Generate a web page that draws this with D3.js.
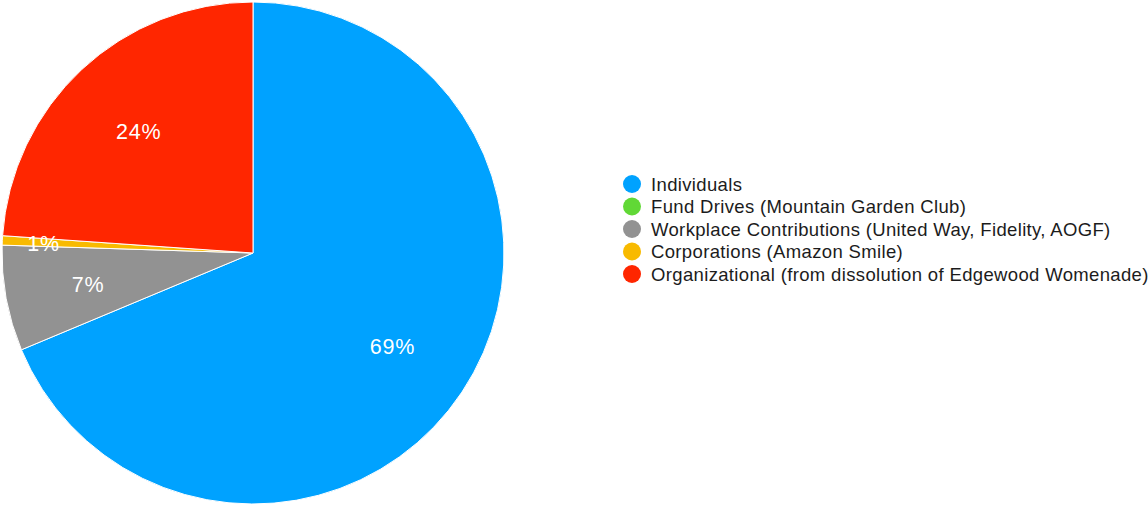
<!DOCTYPE html>
<html>
<head>
<meta charset="utf-8">
<script src="https://cdn.jsdelivr.net/npm/d3@7"></script>
<style>
	body { margin: 0; background: #fff; }
	text { font-family: "Liberation Sans", Arial, sans-serif; }
</style>
</head>
<body>
<svg id="chart" width="1148" height="506"></svg>
<script>

// DATA ========================================================================= //

var categories = [
	"Individuals",
	"Fund Drives (Mountain Garden Club)",
	"Workplace Contributions (United Way, Fidelity, AOGF)",
	"Corporations (Amazon Smile)",
	"Organizational (from dissolution of Edgewood Womenade)"
];
var shares = [68.7, 0, 6.8, 0.6, 23.9];
var colors = ["#00a2ff", "#61d836", "#929292", "#f8ba00", "#ff2600"];

// SETUP ======================================================================== //

var width = 1148,
	height = 506,
	cx = 253,
	cy = 253,
	R = 251;

var svg = d3.select("#chart");

var data = categories.map((c, i) => ({name: c, value: shares[i], color: colors[i]}));

var pie = d3.pie()
	.sort(null)
	.value(d => d.value);

var arc = d3.arc()
	.innerRadius(0)
	.outerRadius(R);

var arcs = pie(data);

var g = svg.append("g")
	.attr("transform", `translate(${cx},${cy})`);

g.selectAll("path")
	.data(arcs.filter(d => d.data.value > 0))
	.enter()
	.append("path")
	.attr("d", arc)
	.attr("fill", d => d.data.color)
	.attr("stroke", "#fff")
	.attr("stroke-width", 1);

// labels: small slices get pushed further out
var fmt = d3.format(".0%");
g.selectAll("text.pct")
	.data(arcs.filter(d => d.data.value > 0))
	.enter()
	.append("text")
	.attr("class", "pct")
	.attr("transform", d => {
		let small = (d.endAngle - d.startAngle) < 0.1,
			lr = small ? R * 0.835 : R * 0.668,
			a = (d.startAngle + d.endAngle) / 2;
		return `translate(${Math.sin(a) * lr},${-Math.cos(a) * lr + 1.5})`;
	})
	.attr("text-anchor", "middle")
	.attr("dominant-baseline", "central")
	.attr("fill", "#fff")
	.style("font-size", "21.5px")
	.style("letter-spacing", "0.8px")
	.text(d => fmt(d.data.value / 100));

// LEGEND ======================================================================= //

var legend = svg.append("g")
	.attr("transform", "translate(632,184)");

var rowH = 22.5;

var items = legend.selectAll("g")
	.data(data)
	.enter()
	.append("g")
	.attr("transform", (d, i) => `translate(0,${i * rowH})`);

items.append("circle")
	.attr("r", 9)
	.attr("fill", d => d.color);

items.append("text")
	.attr("x", 19)
	.attr("dominant-baseline", "central")
	.attr("fill", "#1c1c1c")
	.style("font-size", "18.5px")
	.style("letter-spacing", "0.35px")
	.text(d => d.name);

</script>
</body>
</html>
